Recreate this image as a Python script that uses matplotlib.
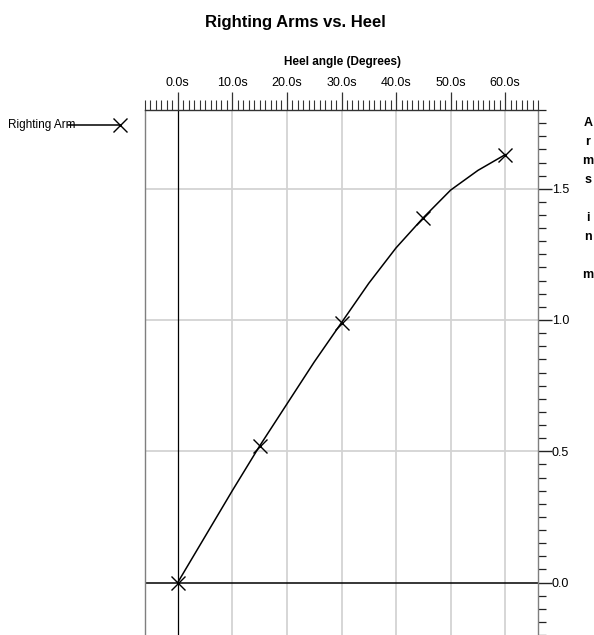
import matplotlib
matplotlib.use('Agg')
import matplotlib.pyplot as plt
from matplotlib.ticker import MultipleLocator, FixedLocator, FuncFormatter
from matplotlib.lines import Line2D

plt.rcParams['font.family'] = ['Liberation Sans Narrow', 'Liberation Sans', 'DejaVu Sans']

# ---- data ----
heel_deg = [0, 5, 10, 15, 20, 25, 30, 35, 40, 45, 50, 55, 60]
righting_arm = [0.0, 0.175, 0.35, 0.52, 0.68, 0.84, 0.99, 1.14, 1.275, 1.39, 1.495, 1.57, 1.63]
x_major_ticks = [0, 10, 20, 30, 40, 50, 60]
y_major_ticks = [0.0, 0.5, 1.0, 1.5]
series_name = "Righting Arm"
title = "Righting Arms vs. Heel"
x_title = "Heel angle (Degrees)"
y_title = "A\nr\nm\ns\n\ni\nn\n\nm"

W, H = 594, 635
fig = plt.figure(figsize=(W / 100, H / 100), dpi=100)
ax = fig.add_axes([145 / W, 0, 393 / W, 525 / H])
ax.set_xlim(-6, 66)
ax.set_ylim(-0.2, 1.8)

# grid
for xv in x_major_ticks[1:]:
    ax.axvline(xv, color='#d3d3d3', lw=1.3, zorder=0)
for yv in y_major_ticks[1:]:
    ax.axhline(yv, color='#d3d3d3', lw=1.3, zorder=0)
ax.axvline(0, color='black', lw=0.9, zorder=1)
ax.axhline(0, color='black', lw=1.1, zorder=1)

ax.plot(heel_deg, righting_arm, color='black', lw=1.1, marker='x', markersize=10,
        markeredgewidth=1.0, markevery=3, zorder=3, clip_on=False)

# axes styling
for s in ['left', 'right', 'top', 'bottom']:
    ax.spines[s].set_color('#7f7f7f')
    ax.spines[s].set_linewidth(1.0)
ax.spines['top'].set_color('#333333')
ax.spines['bottom'].set_visible(False)

ax.xaxis.tick_top()
ax.xaxis.set_major_locator(FixedLocator(x_major_ticks))
ax.xaxis.set_minor_locator(MultipleLocator(1))
ax.xaxis.set_major_formatter(FuncFormatter(lambda v, p: f"{v:.1f}s"))
ax.tick_params(axis='x', which='major', length=13, width=0.9, color='#333333',
               labelsize=9, pad=2)
ax.tick_params(axis='x', which='minor', length=7, width=0.8, color='#333333')

ax.yaxis.tick_right()
ax.yaxis.set_major_locator(FixedLocator(y_major_ticks))
ax.yaxis.set_minor_locator(MultipleLocator(0.05))
ax.yaxis.set_major_formatter(FuncFormatter(lambda v, p: f"{v:.1f}"))
ax.tick_params(axis='y', which='major', length=10, width=1.0, color='#222222',
               labelsize=9, pad=0)
ax.tick_params(axis='y', which='minor', length=6, width=0.9, color='#222222')

# titles
fig.text(295 / W, 1 - 23 / H, title, ha='center', va='center', fontsize=12, fontweight='bold')
fig.text(343 / W, 1 - 62 / H, x_title, ha='center', va='center', fontsize=8.5, fontweight='bold')
fig.text(588 / W, 1 - 117 / H, y_title, ha='center', va='top', fontsize=9,
         fontweight='bold', linespacing=1.78)

# legend
fig.text(8 / W, 1 - 125 / H, series_name, ha='left', va='center', fontsize=8.5)
fig.add_artist(Line2D([68 / W, 120 / W], [1 - 125 / H, 1 - 125 / H], color='black', lw=1.1,
                      transform=fig.transFigure))
fig.add_artist(Line2D([120 / W], [1 - 125 / H], color='black', marker='x', markersize=10,
                      markeredgewidth=1.0, linestyle='none', transform=fig.transFigure))

fig.savefig('out.png', dpi=100)
